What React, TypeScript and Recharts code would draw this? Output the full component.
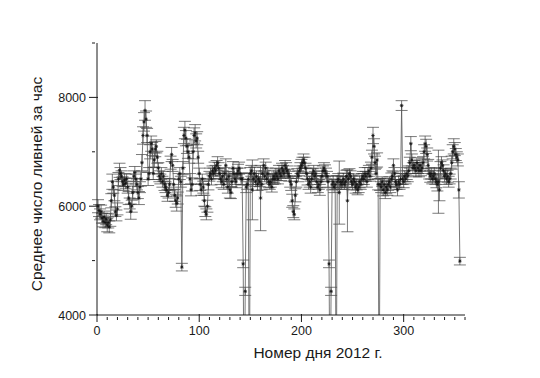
import { ErrorBar, Line, LineChart, XAxis, YAxis } from 'recharts';

// day 1 .. 355 of 2012
const FIRST_DAY = 1;

const meanRate = [
  6000, 5920, 5850, 5900, 5780, 5720, 5800, 5700, 5760, 5650,
  5700, 5620, 5750, 6100, 6450, 6350, 6200, 5900, 5830, 5950,
  6500, 6660, 6600, 6550, 6450, 6400, 6480, 6420, 6500, 6350,
  6150, 6050, 5900, 6000, 6250, 6550, 6620, 6500, 6400, 6250,
  6150, 6350, 6500, 6800, 7300, 7550, 7760, 7600, 7300, 6500,
  6600, 7000, 7150, 7050, 6600, 6850, 7050, 7100, 6900, 6700,
  6550, 6500, 6600, 6450, 6550, 6400, 6350, 6300, 6200, 6250,
  6400, 6800, 6950, 6750, 6400, 6200, 6100, 6050, 6150, 6500,
  6600, 6450, 4880, 6700, 7300, 7400, 7250, 7100, 7000, 6900,
  6500, 6300, 6400, 7000, 7300, 7350, 7200, 7250, 6900, 6600,
  6400, 6300, 6500, 6350, 6100, 5900, 5850, 6000, 6400, 6550,
  6600, 6500, 6650, 6600, 6700, 6650, 6750, 6800, 6700, 6600,
  6500, 6450, 6550, 6400, 6600, 6750, 6500, 6350, 6550, 6300,
  6250, 6450, 6700, 6600, 6500, 6450, 6600, 6650, 6700, 6600,
  6500, 6500, 4940, 2000, 4435, 6350, 6400, 6500, 2000, 6600,
  6650, 6300, 6500, 6600, 6450, 6550, 6400, 6500, 6450, 6150,
  6400, 6600, 6750, 6550, 6700, 6500, 6600, 6450, 6400, 6450,
  6350, 6500, 6550, 6500, 6600, 6550, 6500, 6650, 6600, 6550,
  6700, 6650, 6600, 6750, 6700, 6650, 6600, 6550, 6450, 6400,
  6100, 5900, 5850, 6200, 6450, 6600, 6550, 6650, 6700, 6750,
  6800, 6850, 6800, 6700, 6600, 6500, 6400, 6450, 6350, 6500,
  6600, 6650, 6550, 6600, 6450, 6350, 6400, 6300, 6450, 6550,
  6650, 6700, 6650, 6600, 6550, 6450, 4940, 2000, 4435, 6400,
  6450, 6350, 6400, 2000, 6450, 6500, 6250, 6450, 6400, 6450,
  6500, 6400, 6450, 6550, 6100, 6500, 6600, 6550, 6450, 6400,
  6500, 6450, 6350, 6400, 6300, 6350, 6450, 6400, 6500, 6550,
  6500, 6600, 6550, 6450, 6600, 6650, 6550, 6700, 6900, 7300,
  7100, 6800, 6600, 6850, 6400, 2000, 6400, 6350, 6450, 6300,
  6400, 6250, 6350, 6300, 6400, 6450, 6350, 6500, 6550, 6750,
  6600, 6450, 6400, 6300, 6450, 6400, 6500, 7850, 6500, 6450,
  6550, 6500, 6600, 6550, 6650, 6800, 7150, 6850, 6700, 6750,
  6700, 6650, 6800, 6700, 6650, 6750, 6650, 6700, 6800, 7000,
  7150, 7100, 6950, 6750, 6600, 6550, 6600, 6500, 6550, 6600,
  6500, 6450, 6400, 6450, 6300, 6700, 6800, 6750, 6650, 6550,
  6600, 6500, 6550, 6450, 6500, 6600, 6800, 7000, 7100, 7050,
  6950, 6900, 6850, 6300, 4990,
];

const rateErr = [
  120, 110, 100, 120, 90, 100, 110, 95, 100, 120,
  100, 110, 120, 130, 140, 110, 100, 90, 100, 110,
  120, 130, 110, 100, 90, 110, 120, 100, 90, 110,
  120, 100, 140, 110, 120, 100, 110, 90, 100, 110,
  120, 100, 130, 150, 160, 170, 180, 150, 130, 120,
  110, 130, 140, 120, 110, 130, 140, 120, 110, 100,
  100, 90, 110, 100, 90, 110, 100, 120, 110, 100,
  110, 120, 130, 110, 100, 110, 120, 140, 110, 100,
  110, 100, 70, 120, 150, 160, 140, 130, 120, 110,
  100, 110, 120, 130, 140, 150, 130, 120, 110, 100,
  110, 100, 90, 110, 100, 90, 100, 110, 100, 90,
  100, 110, 90, 100, 110, 100, 90, 110, 100, 90,
  100, 110, 100, 90, 110, 120, 100, 110, 90, 150,
  110, 100, 120, 90, 100, 110, 100, 120, 110, 100,
  100, 110, 70, 100, 75, 100, 90, 110, 100, 110,
  100, 550, 100, 120, 90, 100, 110, 100, 90, 600,
  100, 110, 120, 100, 110, 90, 100, 110, 90, 100,
  90, 100, 110, 90, 100, 80, 90, 100, 90, 80,
  90, 100, 80, 90, 100, 90, 80, 90, 100, 110,
  120, 110, 100, 120, 100, 90, 100, 90, 100, 110,
  100, 110, 100, 90, 100, 110, 90, 100, 110, 100,
  90, 100, 90, 100, 110, 100, 90, 100, 110, 100,
  90, 100, 110, 100, 90, 100, 70, 100, 75, 100,
  110, 100, 90, 100, 110, 100, 580, 100, 90, 100,
  110, 90, 100, 110, 570, 100, 90, 100, 110, 100,
  90, 100, 110, 100, 90, 100, 110, 90, 100, 90,
  100, 110, 90, 100, 110, 100, 90, 110, 130, 150,
  140, 120, 100, 130, 100, 100, 110, 100, 90, 110,
  100, 110, 120, 100, 110, 90, 100, 110, 100, 120,
  110, 100, 90, 110, 100, 90, 100, 90, 100, 110,
  100, 90, 110, 100, 90, 100, 130, 110, 100, 90,
  100, 110, 90, 100, 110, 100, 90, 100, 110, 130,
  140, 130, 120, 110, 100, 110, 100, 90, 100, 110,
  100, 110, 120, 580, 200, 120, 110, 100, 110, 100,
  90, 100, 110, 100, 90, 100, 120, 130, 140, 120,
  110, 100, 110, 150, 70,
];

const xTicks = [
  0, 10, 20, 30, 40, 50, 60, 70, 80, 90, 100, 110, 120, 130, 140, 150, 160, 170, 180,
  190, 200, 210, 220, 230, 240, 250, 260, 270, 280, 290, 300, 310, 320, 330, 340, 350, 360,
];
const xLabeled = [0, 100, 200, 300];
const yTicks = [4000, 5000, 6000, 7000, 8000, 9000];
const yLabeled = [4000, 6000, 8000];

const xTitle = 'Номер дня 2012 г.';
const yTitle = 'Среднее число ливней за час';

const FONT = '"Liberation Sans", Arial, sans-serif';
const INK = '#1a1a1a';

const data = meanRate.map((rate, i) => ({ day: FIRST_DAY + i, rate, err: rateErr[i] }));

const XTick = ({ x, y, payload }: any) => {
  const major = xLabeled.includes(payload.value);
  return (
    <g>
      <line x1={x} x2={x} y1={major ? y - 3 : y} y2={y + (major ? 5 : 3)} stroke={INK} strokeWidth={1} />
      {major && (
        <text x={x} y={y + 18} textAnchor='middle' fontSize={12.5} fontFamily={FONT} fill={INK}>
          {payload.value}
        </text>
      )}
    </g>
  );
};

const YTick = ({ x, y, payload }: any) => {
  const major = yLabeled.includes(payload.value);
  return (
    <g>
      <line x1={x - (major ? 6 : 3)} x2={major ? x + 3 : x} y1={y} y2={y} stroke={INK} strokeWidth={1} />
      {major && (
        <text x={x - 9} y={y + 4.5} textAnchor='end' fontSize={12.5} fontFamily={FONT} fill={INK}>
          {payload.value}
        </text>
      )}
    </g>
  );
};

// small Origin-style star marker
const StarDot = ({ cx, cy }: any) => {
  if (cx == null || cy == null) return null;
  const d = `M${cx - 1.8},${cy}L${cx + 1.8},${cy}M${cx},${cy - 1.8}L${cx},${cy + 1.8}` +
    `M${cx - 1.3},${cy - 1.3}L${cx + 1.3},${cy + 1.3}M${cx - 1.3},${cy + 1.3}L${cx + 1.3},${cy - 1.3}`;
  return <path d={d} stroke='#111' strokeWidth={0.7} fill='none' />;
};

export default function App() {
  return (
    <div style={{ position: 'absolute', left: 0, top: 0, width: 540, height: 378, background: '#fff' }}>
      <LineChart width={540} height={378} data={data} margin={{ top: 43, right: 75, bottom: 0, left: 0 }}>
        <XAxis
          type='number'
          dataKey='day'
          domain={[0, 360]}
          ticks={xTicks}
          interval={0}
          height={63}
          tickSize={0}
          tickLine={false}
          tick={<XTick />}
          axisLine={{ stroke: INK, strokeWidth: 1 }}
          label={{
            content: () => (
              <text x={318} y={358} textAnchor='middle' fontSize={15.5} fontFamily={FONT} fill={INK}>
                {xTitle}
              </text>
            ),
          }}
        />
        <YAxis
          type='number'
          domain={[4000, 9000]}
          allowDataOverflow
          ticks={yTicks}
          interval={0}
          width={97}
          tickSize={0}
          tickLine={false}
          tick={<YTick />}
          axisLine={{ stroke: INK, strokeWidth: 1 }}
          label={{
            content: () => (
              <text
                x={42}
                y={184}
                transform='rotate(-90 42 184)'
                textAnchor='middle'
                fontSize={15.5}
                fontFamily={FONT}
                fill={INK}
              >
                {yTitle}
              </text>
            ),
          }}
        />
        <Line
          type='linear'
          dataKey='rate'
          stroke='#555'
          strokeWidth={0.8}
          dot={<StarDot />}
          activeDot={false}
          isAnimationActive={false}
        >
          <ErrorBar dataKey='err' width={6} stroke='#333' strokeWidth={0.65} direction='y' isAnimationActive={false} />
        </Line>
      </LineChart>
    </div>
  );
}
